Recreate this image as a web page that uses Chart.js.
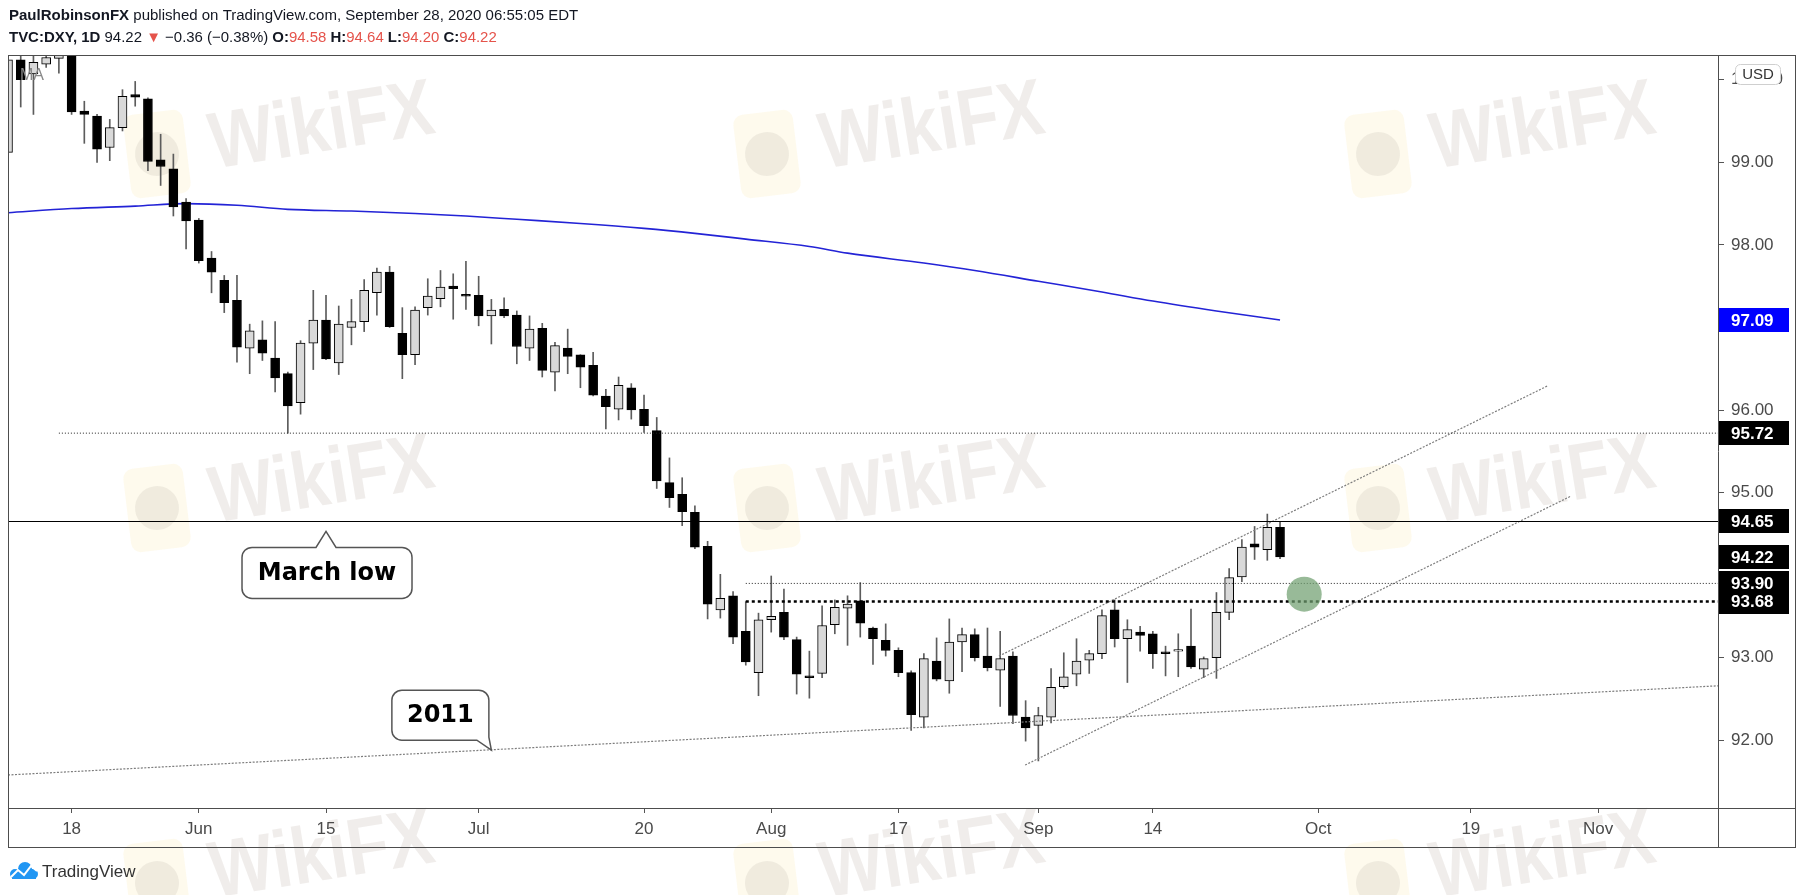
<!DOCTYPE html>
<html>
<head>
<meta charset="utf-8">
<script src="https://cdn.jsdelivr.net/npm/chart.js@4.4.1/dist/chart.umd.min.js"></script>
<style>
  html, body { margin: 0; padding: 0; background: #fff; }
  #wrap { width: 1805px; height: 895px; }
</style>
</head>
<body>
<div id="wrap"><canvas id="dxy" width="1805" height="895"></canvas></div>
<script>
// --- Data ---

// daily candles, one per trading day starting May 11 (index 0) to Sep 28 (index 100)
const opens = [
  99.12, 100.24, 100.07, 100.19, 100.26, 100.45, 99.62, 99.56, 99.18, 99.42,
  99.82, 99.77, 99.03, 98.92, 98.52, 98.30, 97.84, 97.57, 97.33, 96.75,
  96.85, 96.63, 96.44, 96.09, 96.81, 97.09, 96.57, 97.00, 97.07, 97.42,
  97.67, 96.93, 96.67, 97.24, 97.35, 97.50, 97.40, 97.39, 97.14, 97.22,
  97.15, 96.75, 96.99, 96.46, 96.75, 96.67, 96.54, 96.17, 96.01, 96.27,
  96.01, 95.75, 95.12, 94.98, 94.76, 94.35, 93.58, 93.75, 93.32, 92.82,
  93.46, 93.55, 93.22, 92.78, 92.81, 93.40, 93.60, 93.69, 93.36, 93.21,
  93.09, 92.82, 92.28, 92.96, 92.72, 93.19, 93.28, 93.02, 92.85, 93.02,
  92.28, 92.18, 92.28, 92.65, 92.80, 92.97, 93.05, 93.58, 93.23, 93.31,
  93.29, 93.07, 93.08, 93.14, 92.86, 93.00, 93.55, 93.98, 94.38, 94.31,
  94.58
];
const highs = [
  100.35, 100.50, 100.45, 100.45, 100.55, 100.55, 99.74, 99.58, 99.52, 99.88,
  99.98, 99.78, 99.34, 99.10, 98.56, 98.32, 97.92, 97.63, 97.63, 97.04,
  97.08, 97.07, 96.46, 96.84, 97.45, 97.39, 97.26, 97.34, 97.58, 97.72,
  97.74, 97.24, 97.25, 97.59, 97.69, 97.65, 97.80, 97.62, 97.34, 97.36,
  97.20, 97.14, 97.05, 96.82, 96.98, 96.67, 96.70, 96.25, 96.40, 96.32,
  96.18, 95.91, 95.42, 95.18, 94.84, 94.41, 94.01, 93.80, 93.68, 93.54,
  93.99, 93.83, 93.25, 93.08, 93.63, 93.70, 93.75, 93.91, 93.37, 93.41,
  93.12, 92.84, 93.05, 93.24, 93.47, 93.36, 93.35, 93.36, 93.32, 93.07,
  92.48, 92.40, 92.87, 93.06, 93.23, 93.09, 93.58, 93.70, 93.46, 93.38,
  93.32, 93.14, 93.29, 93.59, 93.01, 93.79, 94.08, 94.43, 94.59, 94.74,
  94.64
];
const lows = [
  99.05, 99.67, 99.58, 100.15, 100.08, 99.58, 99.23, 99.00, 99.02, 99.38,
  99.68, 98.90, 98.72, 98.35, 97.95, 97.78, 97.42, 97.18, 96.58, 96.44,
  96.60, 96.22, 95.72, 95.95, 96.49, 96.61, 96.43, 96.79, 96.95, 97.15,
  97.00, 96.38, 96.55, 97.15, 97.25, 97.10, 97.22, 97.02, 96.80, 97.12,
  96.56, 96.60, 96.40, 96.23, 96.44, 96.27, 96.17, 95.77, 95.88, 95.89,
  95.73, 95.05, 94.82, 94.60, 94.32, 93.47, 93.48, 93.17, 92.91, 92.54,
  93.31, 93.22, 92.56, 92.51, 92.76, 93.29, 93.15, 93.25, 92.92, 93.02,
  92.77, 92.12, 92.15, 92.72, 92.57, 92.83, 92.96, 92.84, 92.41, 92.20,
  91.99, 91.75, 92.21, 92.63, 92.66, 92.81, 92.99, 93.13, 92.70, 93.08,
  92.87, 92.78, 92.77, 92.87, 92.76, 92.75, 93.46, 93.92, 94.19, 94.18,
  94.20
];
const closes = [
  100.24, 100.00, 100.21, 100.27, 100.40, 99.61, 99.58, 99.16, 99.42, 99.80,
  99.79, 99.01, 98.95, 98.46, 98.29, 97.81, 97.67, 97.30, 96.76, 96.96,
  96.69, 96.39, 96.05, 96.81, 97.09, 96.62, 97.04, 97.07, 97.45, 97.67,
  97.01, 96.67, 97.21, 97.38, 97.49, 97.47, 97.38, 97.14, 97.21, 97.14,
  96.77, 96.98, 96.48, 96.78, 96.65, 96.52, 96.18, 96.04, 96.30, 96.00,
  95.81, 95.14, 94.94, 94.77, 94.34, 93.65, 93.72, 93.25, 92.95, 93.46,
  93.50, 93.25, 92.80, 92.76, 93.39, 93.61, 93.65, 93.42, 93.23, 93.09,
  92.82, 92.31, 92.99, 92.74, 93.19, 93.28, 93.00, 92.88, 92.99, 92.30,
  92.15, 92.30, 92.64, 92.77, 92.96, 93.05, 93.51, 93.23, 93.34, 93.27,
  93.05, 93.05, 93.10, 92.89, 92.99, 93.55, 93.97, 94.34, 94.34, 94.58,
  94.22
];

// 200-day moving average, sampled at these candle indexes
const maIndex = [0, 5, 10, 14, 18, 22, 27, 32, 36, 40, 45, 50, 54, 58, 63, 66, 72, 76, 81, 86, 90, 95, 100];
const maValues = [98.39, 98.44, 98.47, 98.50, 98.48, 98.43, 98.41, 98.38, 98.35, 98.31, 98.26, 98.20, 98.14,
  98.07, 97.98, 97.90, 97.78, 97.69, 97.56, 97.43, 97.32, 97.20, 97.09];

// horizontal levels: price and the candle index where each starts
const levelPrices = [95.72, 94.65, 93.90, 93.68];
const levelStart = [4, 0, 58, 58];

// drawn trend lines: [startIndex, startPrice, endIndex, endPrice]
const line2011 = [0, 91.58, 134.43, 92.66];
const channelLower = [79.96, 91.70, 122.9, 94.96];
const channelUpper = [77.9, 93.02, 121.0, 96.29];

// green marker
const markerPoint = [101.9, 93.77];

// axis ticks
const xTickIndex = [5, 15, 25, 37, 50, 60, 70, 81, 90, 103, 115, 125];
const xTickLabels = ["18", "Jun", "15", "Jul", "20", "Aug", "17", "Sep", "14", "Oct", "19", "Nov"];
const yTicks = [92, 93, 94, 95, 96, 97, 98, 99, 100];

// price labels highlighted on the axis
const axisLabelPrices = [97.09, 95.72, 94.65, 94.22, 93.90, 93.68];
const axisLabelColors = ["#0000ff", "#000", "#000", "#000", "#000", "#000"];

// text callouts: tip index, tip price
const marchLowTip = [25.0, 94.53];
const tip2011 = [38.0, 91.88];

const X_MAX = 134.43;
const FONT = '"Liberation Sans", Arial, sans-serif';
const RED = "#e5534b";

// --- Helpers ---

function runsWidth(ctx, runs, size) {
  let w = 0;
  for (const r of runs) {
    ctx.font = (r.bold ? "bold " : "") + size + "px " + FONT;
    w += ctx.measureText(r.t).width;
  }
  return w;
}

function drawRuns(ctx, x, y, runs, targetWidth) {
  const size = 20 * targetWidth / runsWidth(ctx, runs, 20);
  ctx.textBaseline = "middle";
  ctx.textAlign = "left";
  for (const r of runs) {
    ctx.font = (r.bold ? "bold " : "") + size + "px " + FONT;
    ctx.fillStyle = r.color || "#131722";
    ctx.fillText(r.t, x, y);
    x += ctx.measureText(r.t).width;
  }
}

function drawWatermark(ctx, cx, cy) {
  ctx.save();
  // pale logo tile
  ctx.translate(cx - 165, cy + 25);
  ctx.rotate(-0.12);
  ctx.fillStyle = "rgba(250, 205, 90, 0.11)";
  ctx.beginPath();
  ctx.roundRect(-30, -42, 60, 84, 10);
  ctx.fill();
  ctx.fillStyle = "rgba(120, 105, 95, 0.10)";
  ctx.beginPath();
  ctx.arc(0, 0, 22, 0, Math.PI * 2);
  ctx.fill();
  ctx.restore();

  ctx.save();
  ctx.translate(cx, cy);
  ctx.rotate(-0.16);
  ctx.scale(0.85, 1);
  ctx.font = "bold 80px " + FONT;
  ctx.fillStyle = "rgba(160, 140, 130, 0.16)";
  ctx.textAlign = "center";
  ctx.textBaseline = "middle";
  ctx.fillText("WikiFX", 0, 0);
  ctx.restore();
}

function calloutStyle(ctx) {
  ctx.fillStyle = "#fff";
  ctx.strokeStyle = "#555";
  ctx.lineWidth = 1.5;
}

// --- Plugin: frame, header, axis boxes, notes ---

const decorPlugin = {
  id: "decor",
  beforeDraw(chart) {
    const ctx = chart.ctx;
    const wm = [[322, 129], [932, 129], [1543, 129], [322, 483], [932, 483], [1543, 483], [322, 858], [932, 858], [1543, 858]];
    wm.forEach(p => drawWatermark(ctx, p[0], p[1]));

    drawRuns(ctx, 9, 16, [
      { t: "PaulRobinsonFX", bold: true },
      { t: " published on TradingView.com, September 28, 2020 06:55:05 EDT" }
    ], 570);
    drawRuns(ctx, 9, 38, [
      { t: "TVC:DXY, 1D", bold: true },
      { t: " 94.22 " },
      { t: "\u25BC", color: RED },
      { t: " \u22120.36 (\u22120.38%) " },
      { t: "O:", bold: true }, { t: "94.58", color: RED },
      { t: " H:", bold: true }, { t: "94.64", color: RED },
      { t: " L:", bold: true }, { t: "94.20", color: RED },
      { t: " C:", bold: true }, { t: "94.22", color: RED }
    ], 488);

    // footer logo
    ctx.save();
    ctx.fillStyle = "#2196f3";
    ctx.beginPath();
    ctx.arc(15, 874, 5, 0, Math.PI * 2);
    ctx.arc(25, 869, 7, 0, Math.PI * 2);
    ctx.arc(33, 874, 5, 0, Math.PI * 2);
    ctx.fill();
    ctx.fillRect(12, 872, 24, 7);
    ctx.strokeStyle = "#fff";
    ctx.lineWidth = 2;
    ctx.beginPath();
    ctx.moveTo(11, 877); ctx.lineTo(18, 870); ctx.lineTo(24, 875); ctx.lineTo(31, 866); ctx.lineTo(37, 871);
    ctx.stroke();
    ctx.font = "17px " + FONT;
    ctx.fillStyle = "#333";
    ctx.textBaseline = "middle";
    ctx.textAlign = "left";
    ctx.fillText("TradingView", 42, 872);
    ctx.restore();
  },
  afterDatasetsDraw(chart) {
    const ctx = chart.ctx;
    ctx.save();
    ctx.font = "16px " + FONT;
    ctx.fillStyle = "#888";
    ctx.textBaseline = "middle";
    ctx.fillText("MA", 20, 76);
    ctx.restore();
  },
  afterDraw(chart) {
    const ctx = chart.ctx;
    const xs = chart.scales.x, ys = chart.scales.y;
    const area = chart.chartArea;
    ctx.save();

    // frame
    ctx.strokeStyle = "#4d4d4d";
    ctx.lineWidth = 1;
    ctx.strokeRect(8.5, 55.5, 1787, 792);
    ctx.beginPath();
    ctx.moveTo(area.right + 0.5, 55); ctx.lineTo(area.right + 0.5, 848);
    ctx.moveTo(8, area.bottom + 0.5); ctx.lineTo(1796, area.bottom + 0.5);
    ctx.stroke();

    // highlighted axis labels
    ctx.font = "bold 17px " + FONT;
    ctx.textBaseline = "middle";
    ctx.textAlign = "left";
    axisLabelPrices.forEach((p, i) => {
      const y = ys.getPixelForValue(p);
      ctx.fillStyle = axisLabelColors[i];
      ctx.fillRect(area.right + 1, Math.round(y) - 12, 70, 24);
      ctx.fillStyle = "#fff";
      ctx.fillText(p.toFixed(2), area.right + 13, y + 1);
    });

    // USD badge
    ctx.fillStyle = "#fff";
    ctx.strokeStyle = "#cfcfcf";
    ctx.beginPath();
    ctx.roundRect(1735.5, 64.5, 45, 20, 5);
    ctx.fill();
    ctx.stroke();
    ctx.fillStyle = "#333";
    ctx.font = "15px " + FONT;
    ctx.textAlign = "center";
    ctx.fillText("USD", 1758, 75);

    // "March low" callout
    let tx = xs.getPixelForValue(marchLowTip[0]);
    let ty = ys.getPixelForValue(marchLowTip[1]);
    let left = tx - 84, top = ty + 16, w = 170, h = 51, r = 10;
    calloutStyle(ctx);
    ctx.beginPath();
    ctx.moveTo(left + r, top);
    ctx.lineTo(tx - 10, top);
    ctx.lineTo(tx, ty);
    ctx.lineTo(tx + 10, top);
    ctx.arcTo(left + w, top, left + w, top + h, r);
    ctx.arcTo(left + w, top + h, left, top + h, r);
    ctx.arcTo(left, top + h, left, top, r);
    ctx.arcTo(left, top, left + w, top, r);
    ctx.closePath();
    ctx.fill();
    ctx.stroke();
    ctx.fillStyle = "#000";
    ctx.font = 'bold 24px "DejaVu Sans", sans-serif';
    ctx.textAlign = "center";
    ctx.fillText("March low", left + w / 2, top + h / 2 + 1);

    // "2011" callout
    tx = xs.getPixelForValue(tip2011[0]);
    ty = ys.getPixelForValue(tip2011[1]);
    w = 97; h = 50;
    left = tx - 99.5; top = ty - 60;
    const right = left + w, bottom = top + h;
    calloutStyle(ctx);
    ctx.beginPath();
    ctx.moveTo(left + r, top);
    ctx.arcTo(right, top, right, bottom, r);
    ctx.lineTo(right, bottom - 3);
    ctx.lineTo(tx, ty);
    ctx.lineTo(right - 12, bottom);
    ctx.arcTo(left, bottom, left, top, r);
    ctx.arcTo(left, top, right, top, r);
    ctx.closePath();
    ctx.fill();
    ctx.stroke();
    ctx.fillStyle = "#000";
    ctx.fillText("2011", left + w / 2, top + h / 2 + 1);

    ctx.restore();
  }
};

// --- Datasets ---

const isUp = i => closes[i] >= opens[i];
const bodyData = opens.map((o, i) => ({ x: i, y: [o, closes[i]] }));
const wickData = opens.map((o, i) => ({ x: i, y: [lows[i], highs[i]] }));
const maData = maIndex.map((x, i) => ({ x: x, y: maValues[i] }));

function segment(seg) {
  return [{ x: seg[0], y: seg[1] }, { x: seg[2], y: seg[3] }];
}

const levelStyles = [
  { color: "#222", width: 1, dash: [1, 2] },
  { color: "#000", width: 1.2, dash: [] },
  { color: "#222", width: 1, dash: [1, 2] },
  { color: "#000", width: 2.5, dash: [3, 3] }
];

const levelSets = levelPrices.map((p, i) => ({
  type: "line",
  data: [{ x: levelStart[i], y: p }, { x: X_MAX, y: p }],
  borderColor: levelStyles[i].color,
  borderWidth: levelStyles[i].width,
  borderDash: levelStyles[i].dash,
  pointRadius: 0,
  order: 1,
  clip: 0
}));

const trendSets = [line2011, channelLower, channelUpper].map(seg => ({
  type: "line",
  data: segment(seg),
  borderColor: "#7d7d7d",
  borderWidth: 1.2,
  borderDash: [2, 1.5],
  pointRadius: 0,
  order: 1,
  clip: 0
}));

new Chart(document.getElementById("dxy"), {
  type: "bar",
  data: {
    datasets: [
      {
        type: "line",
        data: [{ x: markerPoint[0], y: markerPoint[1] }],
        showLine: false,
        pointRadius: 17.5,
        pointBackgroundColor: "rgba(112, 160, 112, 0.72)",
        pointBorderWidth: 0,
        pointBorderColor: "rgba(0,0,0,0)",
        order: 0,
        clip: 0
      },
      ...levelSets,
      ...trendSets,
      {
        type: "bar",
        data: bodyData,
        grouped: false,
        barThickness: 9,
        borderWidth: 1,
        borderColor: "#000",
        borderSkipped: false,
        backgroundColor: c => (isUp(c.dataIndex) ? "#d9d9d9" : "#000"),
        order: 2,
        clip: 0
      },
      {
        type: "bar",
        data: wickData,
        grouped: false,
        barThickness: 1,
        borderWidth: 0,
        backgroundColor: "#5c5c5c",
        order: 3,
        clip: 0
      },
      {
        type: "line",
        data: maData,
        borderColor: "#2323d6",
        borderWidth: 1.6,
        pointRadius: 0,
        tension: 0.4,
        cubicInterpolationMode: "monotone",
        order: 4,
        clip: 0
      }
    ]
  },
  options: {
    responsive: false,
    devicePixelRatio: 1,
    animation: false,
    layout: { autoPadding: false, padding: { left: 8, right: 9, top: 55, bottom: 47 } },
    plugins: {
      legend: { display: false },
      tooltip: { enabled: false }
    },
    scales: {
      x: {
        type: "linear",
        min: 0,
        max: X_MAX,
        offset: false,
        border: { display: false },
        grid: { display: true, offset: false, drawOnChartArea: false, tickLength: 5, color: "#555" },
        ticks: {
          font: { family: FONT, size: 17 },
          color: "#4a4a4a",
          padding: 6,
          maxRotation: 0,
          autoSkip: false,
          callback: v => xTickLabels[xTickIndex.indexOf(v)]
        },
        afterBuildTicks: s => { s.ticks = xTickIndex.map(v => ({ value: v })); },
        afterFit: s => { s.height = 40; }
      },
      y: {
        type: "linear",
        position: "right",
        min: 91.18,
        max: 100.30,
        border: { display: false },
        grid: { display: true, offset: false, drawOnChartArea: false, tickLength: 6, color: "#555" },
        ticks: {
          font: { family: FONT, size: 17 },
          color: "#4a4a4a",
          padding: 7,
          callback: v => (axisLabelPrices.some(p => Math.abs(p - v) < 0.2) ? "" : v.toFixed(2))
        },
        afterBuildTicks: s => { s.ticks = yTicks.map(v => ({ value: v })); },
        afterFit: s => { s.width = 78; }
      }
    }
  },
  plugins: [decorPlugin]
});
</script>
</body>
</html>
